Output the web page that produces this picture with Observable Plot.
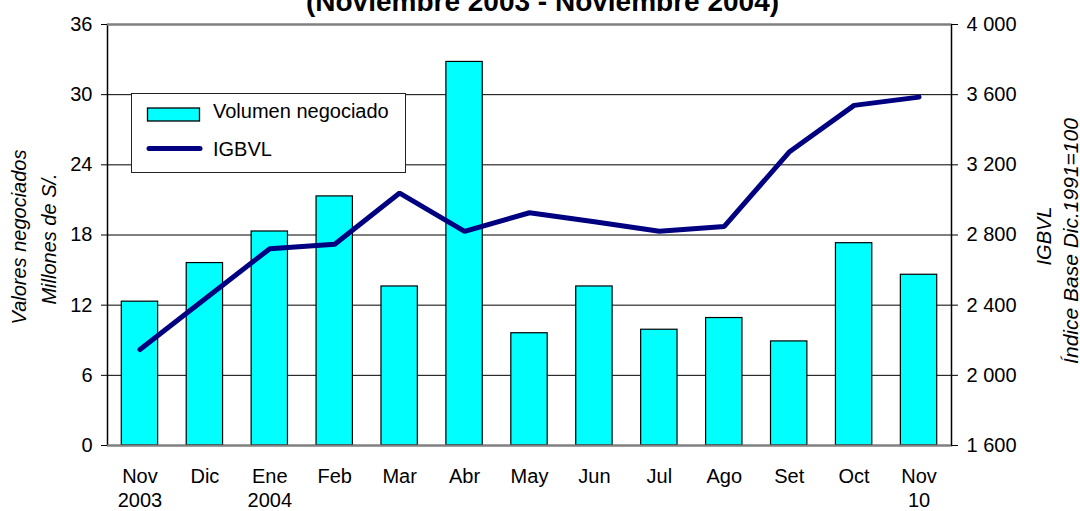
<!DOCTYPE html>
<html>
<head>
<meta charset="utf-8">
<script src="https://cdn.jsdelivr.net/npm/d3@7"></script>
<script src="https://cdn.jsdelivr.net/npm/@observablehq/plot@0.6"></script>
<style>
  html, body { margin: 0; padding: 0; background: #fff; }
  #chart { width: 1080px; height: 511px; overflow: hidden; }
</style>
</head>
<body>
<div id="chart"></div>
<script>
// ---- data ----
const months = ["Nov", "Dic", "Ene", "Feb", "Mar", "Abr", "May", "Jun", "Jul", "Ago", "Set", "Oct", "Nov"];
const years = ["2003", "", "2004", "", "", "", "", "", "", "", "", "", "10"];
const volumen = [12.3, 15.6, 18.3, 21.3, 13.6, 32.8, 9.6, 13.6, 9.9, 10.9, 8.9, 17.3, 14.6];
const igbvl = [2147, 2435, 2722, 2747, 3039, 2821, 2927, 2875, 2821, 2849, 3273, 3539, 3586];
const leftTicks = [0, 6, 12, 18, 24, 30, 36];
const rightTicks = [1600, 2000, 2400, 2800, 3200, 3600, 4000];
const title = "(Noviembre 2003 - Noviembre 2004)";
const leftTitle = ["Valores negociados", "Millones de S/."];
const rightTitle = ["IGBVL", "Índice Base Dic.1991=100"];
const legendLabels = ["Volumen negociado", "IGBVL"];

// ---- helpers ----
const rightMin = 1600, rightMax = 4000, leftMax = 36;
const toLeft = v => (v - rightMin) / (rightMax - rightMin) * leftMax;
const fromLeft = d => Math.round(rightMin + d / leftMax * (rightMax - rightMin));
const fmt = v => d3.format(",")(v).replace(/,/g, " ");
const idx = months.map((_, i) => i);
const font = "'Liberation Sans', Arial, sans-serif";
const CYAN = "#00FFFF", NAVY = "#000080";

const chart = Plot.plot({
  width: 1080,
  height: 511,
  marginLeft: 107,
  marginRight: 129,
  marginTop: 24,
  marginBottom: 66,
  style: { fontFamily: font, fontSize: "20px", color: "black", background: "white" },
  x: { type: "band", domain: idx, paddingInner: 0.44, paddingOuter: 0.22, round: false, axis: null },
  y: { domain: [0, leftMax], axis: null },
  marks: [
    Plot.ruleY(leftTicks.slice(1, -1), { stroke: "black", strokeWidth: 1 }),
    Plot.barY(idx, { x: d => d, y: i => volumen[i], fill: CYAN, stroke: "black", strokeWidth: 1.2 }),
    Plot.line(idx, { x: d => d, y: i => toLeft(igbvl[i]), stroke: NAVY, strokeWidth: 5, strokeLinejoin: "miter", strokeLinecap: "round" }),
    Plot.frame({ stroke: "black", strokeWidth: 1.5 }),
    Plot.ruleY([0, leftMax], { stroke: "#808080", strokeWidth: 2 }),
    Plot.axisY({ anchor: "left", ticks: leftTicks, tickSize: 6, tickPadding: 9, label: null }),
    Plot.axisY({ anchor: "right", ticks: rightTicks.map(toLeft), tickFormat: d => fmt(fromLeft(d)), tickSize: 6, tickPadding: 9, label: null }),
    Plot.text(idx, { x: d => d, text: i => months[i], frameAnchor: "bottom", lineAnchor: "bottom", dy: 37 }),
    Plot.text(idx, { x: d => d, text: i => years[i], frameAnchor: "bottom", lineAnchor: "bottom", dy: 61 }),
    Plot.text([leftTitle[0]], { frameAnchor: "left", textAnchor: "middle", rotate: -90, lineAnchor: "bottom", dx: -82, dy: 2, fontStyle: "italic" }),
    Plot.text([leftTitle[1]], { frameAnchor: "left", textAnchor: "middle", rotate: -90, lineAnchor: "bottom", dx: -52, dy: 4, fontStyle: "italic" }),
    Plot.text([rightTitle[0]], { frameAnchor: "right", textAnchor: "middle", rotate: -90, lineAnchor: "bottom", dx: 99, dy: 1, fontStyle: "italic" }),
    Plot.text([rightTitle[1]], { frameAnchor: "right", textAnchor: "middle", rotate: -90, lineAnchor: "bottom", dx: 126, dy: 6, fontStyle: "italic", fontSize: 21 }),
    Plot.text([title], { frameAnchor: "top", lineAnchor: "bottom", dy: -14, dx: 13, fontSize: 28, fontWeight: "bold" })
  ]
});

// ---- legend (layout box) ----
const svg = d3.select(chart);
const lg = svg.append("g").attr("font-family", font).attr("font-size", 20).attr("text-anchor", "start");
lg.append("rect").attr("x", 131.5).attr("y", 93.5).attr("width", 274).attr("height", 79)
  .attr("fill", "white").attr("stroke", "#222").attr("stroke-width", 1);
lg.append("rect").attr("x", 147.5).attr("y", 108).attr("width", 52).attr("height", 13)
  .attr("fill", CYAN).attr("stroke", "black").attr("stroke-width", 1.3);
lg.append("text").attr("x", 213).attr("y", 118).text(legendLabels[0]);
lg.append("line").attr("x1", 149).attr("x2", 200).attr("y1", 148.5).attr("y2", 148.5)
  .attr("stroke", NAVY).attr("stroke-width", 5).attr("stroke-linecap", "round");
lg.append("text").attr("x", 213).attr("y", 156).text(legendLabels[1]);

document.getElementById("chart").appendChild(chart);
</script>
</body>
</html>
